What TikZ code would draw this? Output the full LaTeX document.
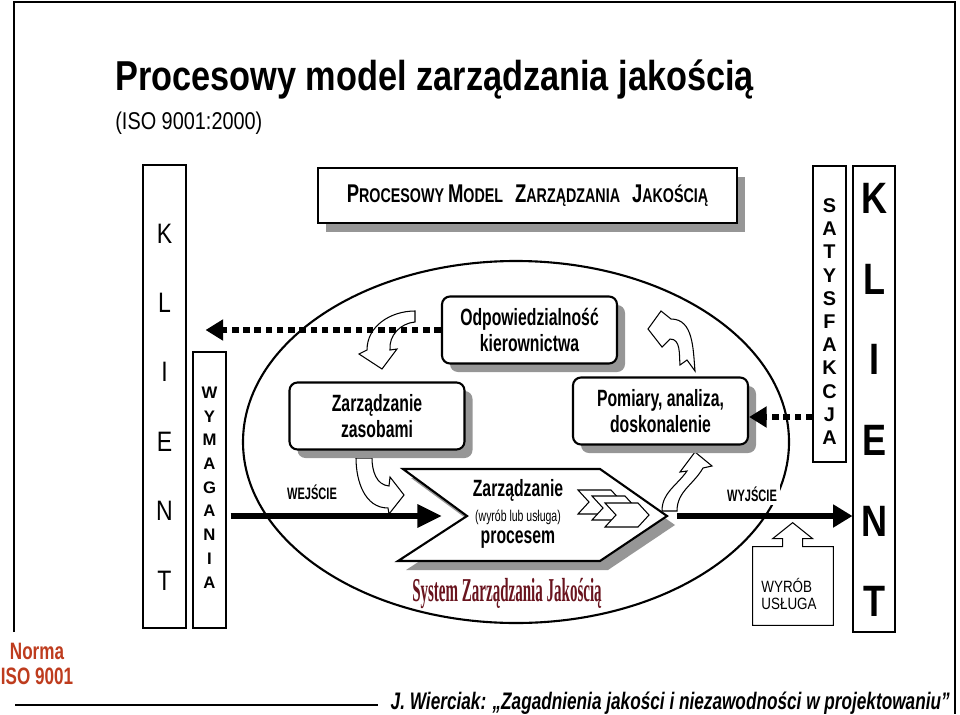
\documentclass[tikz,border=0pt]{standalone}
\usepackage{fontspec}
\usepackage{graphicx}
\setmainfont{Liberation Sans}
\newfontfamily\narrowfont[FakeStretch=0.82]{Liberation Sans}
\newfontfamily\condfont[FakeStretch=0.72]{Liberation Sans}
\newfontfamily\tightfont[FakeStretch=0.67]{Liberation Sans}
\newfontfamily\wordartfont{Liberation Serif}
\usetikzlibrary{arrows.meta,shadows}

\definecolor{shadowgray}{RGB}{150,150,150}
\definecolor{normared}{RGB}{190,60,30}
\definecolor{systemred}{RGB}{105,20,30}

\newcommand{\capbig}[1]{{\fontsize{14.6}{16}\selectfont #1}}
\newcommand{\capsmall}[1]{{\fontsize{11.3}{16}\selectfont #1}}

\tikzset{
  boxshadow/.style={general shadow={fill=shadowgray, shadow xshift=1.6mm, shadow yshift=-1.7mm}},
  taskbox/.style={draw, line width=1.2pt, rounded corners=1.6mm, fill=white, boxshadow,
    minimum width=35mm, minimum height=13.4mm, align=center, inner sep=0pt,
    font=\tightfont\bfseries\fontsize{13.4}{15}\selectfont},
  headbox/.style={draw, line width=1.4pt, fill=white, boxshadow,
    minimum width=83.8mm, minimum height=11mm, font=\condfont\bfseries\fontsize{11.3}{16}\selectfont},
  sidebox/.style={draw, line width=0.6pt, inner sep=0pt},
  letters/.style={align=center, inner sep=0pt},
  bent/.style={draw, line width=0.6pt, fill=white},
  minichev/.style={draw, line width=0.6pt, fill=white},
  dotarrow/.style={line width=3.8pt, dash pattern=on 3.8pt off 2.6pt, -{Triangle[length=10pt,width=11.5pt]}},
  flowarrow/.style={line width=3.4pt, -{Triangle[length=14pt,width=12.5pt]}},
  outarrow/.style={line width=3.4pt, -{Triangle[length=11pt,width=12.5pt]}},
  flowlabel/.style={font=\tightfont\bfseries\fontsize{9.4}{10}\selectfont, fill=white, inner sep=2pt},
}

\begin{document}
\begin{tikzpicture}[x=0.2mm, y=0.2mm]
  \useasboundingbox (0,0) rectangle (960,-714);
  % slide frame
  \draw[line width=1pt] (14,-632) -- (14,-2) -- (955,-2) -- (955,-714);

  % title
  \node[anchor=base west, inner sep=0pt, font=\narrowfont\bfseries\fontsize{23.8}{28}\selectfont] (title) at (115,-91) {Procesowy model zarządzania jakością};
  \node[anchor=base west, inner sep=0pt, font=\narrowfont\fontsize{13.8}{16}\selectfont] (subtitle) at (115,-129) {(ISO 9001:2000)};

  % system ellipse
  \draw[line width=1.2pt] (516,-442) ellipse [x radius=54.6mm, y radius=36.2mm];

  % customer columns
  \node[sidebox, minimum width=8.6mm, minimum height=92.6mm] (klientL) at (164.5,-396.5) {};
  \node[letters, font=\narrowfont\fontsize{16}{39.5}\selectfont] (klientLtxt) at (164.5,-407) {K\\L\\I\\E\\N\\T};
  \node[sidebox, minimum width=6.6mm, minimum height=55.2mm] (wymag) at (209.5,-490) {};
  \node[letters, font=\bfseries\fontsize{9.5}{13.5}\selectfont] (wymagtxt) at (209.5,-487.5) {W\\Y\\M\\A\\G\\A\\N\\I\\A};
  \node[sidebox, minimum width=6.6mm, minimum height=59.2mm] (satys) at (829.5,-314) {};
  \node[letters, font=\bfseries\fontsize{11.3}{13.2}\selectfont] (satystxt) at (829.5,-321.5) {S\\A\\T\\Y\\S\\F\\A\\K\\C\\J\\A};
  \node[sidebox, minimum width=8.4mm, minimum height=93.2mm] (klientR) at (874,-399) {};
  \node[letters, font=\narrowfont\bfseries\fontsize{25}{45.9}\selectfont] (klientRtxt) at (874,-400) {K\\L\\I\\E\\N\\T};

  % heading box
  \node[headbox] (head) at (527.5,-195.5) {\capbig{P}\capsmall{ROCESOWY} \capbig{M}\capsmall{ODEL}\hspace{0.6em}\capbig{Z}\capsmall{ARZĄDZANIA}\hspace{0.6em}\capbig{J}\capsmall{AKOŚCIĄ}};

  % bent arrows of the cycle
  \draw[bent] (415,-311) to[out=180,in=90] (367,-350) -- (359,-354) -- (382,-369) -- (397,-349) -- (390,-350) to[out=95,in=185] (415,-322) -- cycle;
  \draw[bent] (695,-371) to[out=95,in=0] (671,-319) -- (661,-311) -- (648,-329) -- (662,-347) -- (670,-339) to[out=0,in=95] (680,-365) -- (687,-360) -- cycle;
  \draw[bent] (356,-458) to[out=270,in=180] (388,-508) -- (389,-514) -- (404,-495) -- (390,-477) -- (389,-486) to[out=175,in=270] (372,-458) -- cycle;
  \draw[bent] (662,-511) to[out=90,in=235] (687,-471) -- (680,-472) -- (695,-452) -- (712,-466) -- (703,-468) to[out=240,in=90] (677,-511) -- cycle;

  % process boxes
  \node[taskbox] (odp) at (529.5,-330) {Odpowiedzialność\\kierownictwa};
  \node[taskbox] (zasoby) at (377,-416) {Zarządzanie\\zasobami};
  \node[taskbox] (pomiary) at (660.5,-411) {Pomiary, analiza,\\doskonalenie};

  % product realisation chevron
  \draw[line width=1.2pt, fill=white, general shadow={fill=shadowgray, shadow xshift=1.6mm, shadow yshift=-1.8mm}]
    (403,-469) -- (600,-469) -- (667,-516) -- (600,-561) -- (398,-561) -- (467,-516) -- cycle;
  \coordinate (notch) at (467,-516);
  \coordinate (chevtip) at (667,-516);
  \node[font=\tightfont\bfseries\fontsize{13.4}{14}\selectfont] (procA) at (518,-490) {Zarządzanie};
  \node[font=\tightfont\fontsize{8.9}{9}\selectfont] (procB) at (518,-517) {(wyrób lub usługa)};
  \node[font=\tightfont\bfseries\fontsize{13.4}{14}\selectfont] (procC) at (518,-540) {procesem};
  \draw[minichev] (578,-490) -- ++(33,0) -- ++(11,-12) -- ++(-11,-12) -- ++(-33,0) -- ++(11,12) -- cycle;
  \draw[minichev] (592,-496) -- ++(33,0) -- ++(11,-12) -- ++(-11,-12) -- ++(-33,0) -- ++(11,12) -- cycle;
  \draw[minichev] (605,-503) -- ++(33,0) -- ++(11,-12) -- ++(-11,-12) -- ++(-33,0) -- ++(11,12) -- cycle;

  \node[font=\wordartfont\bfseries\fontsize{19}{19}\selectfont, text=systemred] (qms) at (507,-593) {\scalebox{0.45}[1]{System Zarządzania Jakością}};

  % connectors
  \draw[dotarrow] (odp.west) -- ([xshift=3.8mm]odp.west -| klientL.east);
  \draw[dotarrow] ([yshift=-1.2mm]satys.west |- pomiary.east) -- ([yshift=-1.2mm]pomiary.east);
  \draw[flowarrow] ([xshift=0.8mm]wymag.east |- notch) -- ([xshift=-5mm]notch);
  \draw[outarrow] ([xshift=2mm]chevtip) -- (klientR.west |- chevtip);
  \node[flowlabel] (wej) at (312,-492) {WEJŚCIE};
  \node[flowlabel] (wyj) at (752,-494) {WYJŚCIE};

  % product callout
  \node[minimum width=16mm, minimum height=15.6mm, inner sep=0pt] (wyrob) at (793,-586) {};
  \draw[line width=0.6pt, fill=white] (wyrob.north west) -- ++(30,0) -- ++(0,8) -- ++(-10,0) -- ++(20,16) -- ++(20,-16) -- ++(-10,0) -- ++(0,-8) -- (wyrob.north east) -- (wyrob.south east) -- (wyrob.south west) -- cycle;
  \node[align=left, inner sep=0pt, font=\narrowfont\fontsize{9.3}{10.2}\selectfont] (wyrobtxt) at (789,-594) {WYRÓB\\USŁUGA};

  % footer
  \node[align=center, text=normared, font=\condfont\bfseries\fontsize{13.5}{14}\selectfont] (norma) at (37,-664) {Norma\\ISO 9001};
  \node[anchor=base east, inner sep=0pt, font=\condfont\bfseries\itshape\fontsize{13.6}{14}\selectfont] (footer) at (950,-709) {J. Wierciak: „Zagadnienia jakości i niezawodności w projektowaniu”};
  \draw[line width=1.4pt] (15,-705) -- ([xshift=-2.4mm]footer.west |- 0,-705);
\end{tikzpicture}
\end{document}
